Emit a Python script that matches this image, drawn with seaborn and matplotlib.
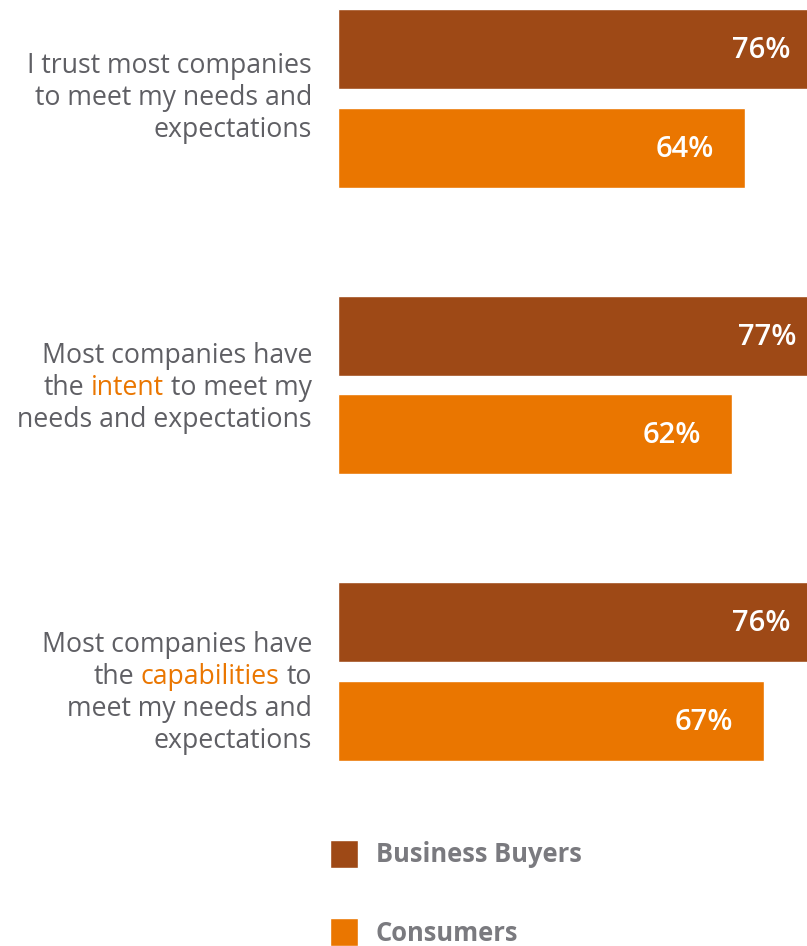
import matplotlib
matplotlib.use("Agg")
import matplotlib.pyplot as plt
from matplotlib.transforms import IdentityTransform
import seaborn as sns
import pandas as pd

# ---- data ----
categories = ["Trust", "Intent", "Capabilities"]
category_labels = [
    ["I trust most companies", "to meet my needs and", "expectations"],
    ["Most companies have", "the *intent* to meet my", "needs and expectations"],
    ["Most companies have", "the *capabilities* to", "meet my needs and", "expectations"],
]
groups = ["Business Buyers", "Consumers"]
business_buyers = [76, 77, 76]
consumers = [64, 62, 67]

# ---- style ----
W, H, DPI = 807, 946, 100
BROWN = "#9E4916"
ORANGE = "#EA7600"
GRAY = "#5F5F64"
LEG_GRAY = "#7A7A7F"

sns.set_theme(style="white")
plt.rcParams["font.family"] = ["Open Sans", "DejaVu Sans"]

df = pd.DataFrame({
    "category": categories * 2,
    "value": business_buyers + consumers,
    "group": [groups[0]] * 3 + [groups[1]] * 3,
})

fig = plt.figure(figsize=(W / DPI, H / DPI), dpi=DPI)
ax = fig.add_axes([338 / W, 0, (W - 338) / W, 1])
sns.barplot(data=df, y="category", x="value", hue="group", hue_order=groups,
            order=categories, palette=[BROWN, ORANGE], orient="h",
            width=0.69, gap=0.19, saturation=1, errorbar=None, ax=ax)

px_per_unit = 6.36
ax.set_xlim(0, (W - 338) / px_per_unit)
ax.set_ylim(2 + (H - 671.5) / 286.5, -98.5 / 286.5)
for s in ax.spines.values():
    s.set_visible(False)
ax.set_xticks([])
ax.set_yticks([])
ax.set_xlabel("")
ax.set_ylabel("")

# value labels
for cont in ax.containers:
    for bar, v in zip(cont, cont.datavalues):
        ax.text(v - 9.5, bar.get_y() + bar.get_height() / 2 + 0.005,
                f"{v:.0f}%", color="white", ha="center", va="center",
                fontsize=21, fontweight="semibold")

# legend
LEG_FS = 18.4
LEG_PX = LEG_FS * DPI / 72
sns.move_legend(ax, "upper left", bbox_to_anchor=(330 / W, 1 - 840 / H),
                bbox_transform=fig.transFigure, title=None, frameon=False,
                fontsize=LEG_FS, handlelength=28 / LEG_PX, handleheight=1.3,
                handletextpad=0.7, labelspacing=1.95, borderpad=0,
                borderaxespad=0)
leg = ax.get_legend()
for t in leg.get_texts():
    t.set_color(LEG_GRAY)
    t.set_fontweight("bold")

# category labels (multi-colour lines, right aligned)
renderer = fig.canvas.get_renderer()
LABEL_FS = 19.2
LINE_PX = 32
label_offsets = [-0.002, 0.012, 0.075]
RIGHT_X = 312


def text_width(s):
    t = fig.text(0, 0, s, fontsize=LABEL_FS, transform=IdentityTransform())
    w = t.get_window_extent(renderer).width
    t.remove()
    return w


def parse(line):
    segs = []
    for word in line.split(" "):
        if word.startswith("*") and word.endswith("*"):
            segs.append((word.strip("*"), ORANGE))
        else:
            segs.append((word, GRAY))
    merged = []
    for w_, c in segs:
        if merged and merged[-1][1] == c:
            merged[-1] = (merged[-1][0] + " " + w_, c)
        else:
            merged.append((w_, c))
    return merged


for i, lines in enumerate(category_labels):
    cy = ax.transData.transform((0, i + label_offsets[i]))[1]
    n = len(lines)
    for j, line in enumerate(lines):
        y = cy - (j - (n - 1) / 2) * LINE_PX
        segs = parse(line)
        texts = [s for s, _ in segs]
        full = " ".join(texts)
        x0 = RIGHT_X - text_width(full)
        for k, (s, c) in enumerate(segs):
            if k == 0:
                xs = x0
            else:
                pre = " ".join(texts[:k]) + " " + s
                xs = x0 + text_width(pre) - text_width(s)
            fig.text(xs, y, s, color=c, fontsize=LABEL_FS, ha="left",
                     va="center", transform=IdentityTransform())

fig.savefig("out.png", dpi=DPI)
